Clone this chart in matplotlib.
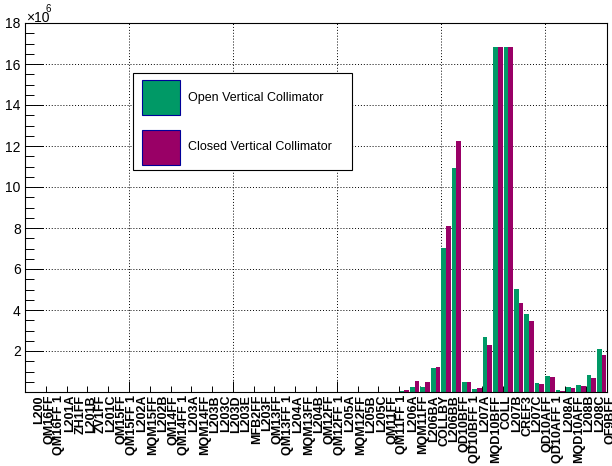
import matplotlib
matplotlib.use('Agg')
import matplotlib.pyplot as plt
import matplotlib.transforms as mtransforms
from matplotlib.patches import Rectangle
from matplotlib.ticker import MultipleLocator, FuncFormatter

plt.rcParams['font.family'] = ['Liberation Sans', 'DejaVu Sans']

# beamline elements, one bin each
elements = ['L200', 'QM16FF', 'QM16FF 1', 'L201A', 'ZH1FF', 'L201B', 'ZV1FF', 'L201C',
            'QM15FF', 'QM15FF 1', 'L202A', 'MQM15FF', 'L202B', 'QM14FF', 'QM14FF 1',
            'L203A', 'MQM14FF', 'L203B', 'L203C', 'L203D', 'L203E', 'MFB2FF', 'L203F',
            'QM13FF', 'QM13FF 1', 'L204A', 'MQM13FF', 'L204B', 'QM12FF', 'QM12FF 1',
            'L205A', 'MQM12FF', 'L205B', 'L205C', 'QM11FF', 'QM11FF 1', 'L206A',
            'MQM11FF', 'L206BA', 'COLLBY', 'L206BB', 'QD10BFF', 'QD10BFF 1', 'L207A',
            'MQD10BFF', 'COLL', 'L207B', 'CREF3', 'L207C', 'QD10AFF', 'QD10AFF 1',
            'L208A', 'MQD10AFF', 'L208B', 'L208C', 'QF9BFF']

# losses per element (units of 1e6)
open_vc = [0.02] * 36 + [0.05, 0.25,
           0.26, 1.15, 7.04, 10.94, 0.50, 0.13, 2.70, 16.83, 16.83,
           5.02, 3.80, 0.45, 0.80, 0.10, 0.26, 0.34, 0.81, 2.10]
closed_vc = [0.02] * 36 + [0.08, 0.55,
             0.47, 1.24, 8.10, 12.24, 0.50, 0.18, 2.29, 16.83, 16.83,
             4.36, 3.46, 0.39, 0.75, 0.05, 0.21, 0.29, 0.70, 1.82]

green = '#009966'
purple = '#990066'

W, H = 612, 466
fig = plt.figure(figsize=(W / 100, H / 100), dpi=100)
ax = fig.add_axes([25 / W, 1 - 392 / H, 582 / W, 369 / H])

n = len(elements)
xs = list(range(n))
ax.bar([x + 0.05 for x in xs], [v * 1e6 for v in open_vc], width=0.45,
       align='edge', color=green, linewidth=0)
ax.bar([x + 0.5 for x in xs], [v * 1e6 for v in closed_vc], width=0.45,
       align='edge', color=purple, linewidth=0)

ax.set_xlim(0, n)
ax.set_ylim(0, 18e6)

# axes ticks, ROOT style
ax.xaxis.set_major_locator(MultipleLocator(10))
ax.xaxis.set_minor_locator(MultipleLocator(2))
ax.yaxis.set_major_locator(MultipleLocator(2e6))
ax.yaxis.set_minor_locator(MultipleLocator(0.5e6))
ax.yaxis.set_major_formatter(FuncFormatter(lambda v, p: '' if v == 0 else '%d' % round(v / 1e6)))
ax.tick_params(axis='x', which='both', direction='in', labelbottom=False)
ax.tick_params(axis='x', which='major', length=8, width=0.7)
ax.tick_params(axis='x', which='minor', length=4, width=0.7)
ax.tick_params(axis='y', which='both', direction='in', labelsize=10, pad=3)
ax.tick_params(axis='y', which='major', length=12.6, width=0.7)
ax.tick_params(axis='y', which='minor', length=6.3, width=0.7)
for s in ax.spines.values():
    s.set_linewidth(0.8)

ax.grid(True, which='major', color='black', linewidth=0.7, linestyle=(0, (1, 2)))
ax.set_axisbelow(True)

# vertical element names under each bin
lab_tr = mtransforms.offset_copy(ax.get_xaxis_transform(), fig=fig, x=8.5, y=-3, units='dots')
for i, name in enumerate(elements):
    ax.text(i + 0.5, 0, name, transform=lab_tr, rotation=90, ha='center', va='top',
            fontsize=9, fontweight='bold')

# exponent
fig.text(26 / W, 1 - 22 / H, '\u00d710', fontsize=10, ha='left', va='baseline')
fig.text(45 / W, 1 - 12 / H, '6', fontsize=7, ha='left', va='baseline')

# legend box
def px_rect(x0, y0, x1, y1, **kw):
    r = Rectangle((x0 / W, 1 - y1 / H), (x1 - x0) / W, (y1 - y0) / H,
                  transform=fig.transFigure, **kw)
    fig.add_artist(r)

px_rect(133, 73, 352, 170, facecolor='white', edgecolor='black', linewidth=0.8)
px_rect(142, 80, 180, 115, facecolor=green, edgecolor='#000099', linewidth=0.8)
px_rect(142, 130, 180, 165, facecolor=purple, edgecolor='#000099', linewidth=0.8)
fig.text(188 / W, 1 - 97.5 / H, 'Open Vertical Collimator', fontsize=9, va='center')
fig.text(188 / W, 1 - 147.5 / H, 'Closed Vertical Collimator', fontsize=9, va='center')

fig.savefig('out.png', dpi=100)
